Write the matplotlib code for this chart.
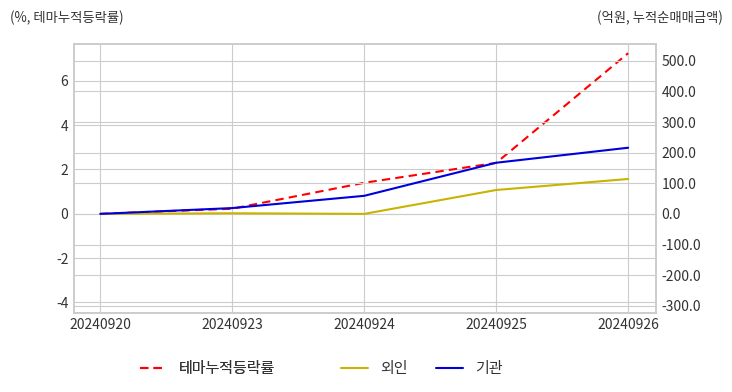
import numpy as np
import matplotlib.pyplot as plt

plt.style.use("seaborn-v0_8-whitegrid")
plt.rcParams["font.family"] = ["Noto Sans CJK KR", "DejaVu Sans"]
plt.rcParams["axes.unicode_minus"] = False

dates = ["20240920", "20240923", "20240924", "20240925", "20240926"]
theme_rate = [0.0, 0.23, 1.4, 2.3, 7.25]      # %, left axis
foreign = [0.0, 2.0, 0.0, 78.0, 114.0]        # 억원, right axis
institution = [0.0, 19.0, 59.0, 167.0, 216.0]  # 억원, right axis

text_color = "#333333"
grid_color = "#cccccc"

fig, ax = plt.subplots(figsize=(7.32, 3.92), dpi=100)
fig.subplots_adjust(left=0.101, right=0.896, top=0.888, bottom=0.202)
ax2 = ax.twinx()

x = np.arange(len(dates))
l1, = ax.plot(x, theme_rate, color="red", ls=(0, (4, 2.5)), lw=1.5,
              label="테마누적등락률")
l2, = ax2.plot(x, foreign, color="#c8b400", lw=1.5, label="외인")
l3, = ax2.plot(x, institution, color="#0000dd", lw=1.5, label="기관")

ax.set_xlim(-0.2, 4.21)
ax.set_ylim(-4.47, 7.67)
ax.set_yticks([-4, -2, 0, 2, 4, 6])
ax2.set_ylim(-323, 555)
ax2.set_yticks([-300, -200, -100, 0, 100, 200, 300, 400, 500])
ax2.set_yticklabels([f"{v:.1f}" for v in ax2.get_yticks()])
ax.set_xticks(x)
ax.set_xticklabels(dates)

for a in (ax, ax2):
    a.grid(True, color=grid_color, lw=0.8)
    a.tick_params(colors=text_color, labelsize=10, length=0, pad=4)
    for s in a.spines.values():
        s.set_visible(True)
        s.set_color(grid_color)
        s.set_linewidth(1.2)
ax2.grid(True, axis="y", color=grid_color, lw=0.8)
ax2.grid(False, axis="x")

fig.text(0.013, 0.955, "(%, 테마누적등락률)", fontsize=9.6, color=text_color,
         ha="left", va="center")
fig.text(0.987, 0.955, "(억원, 누적순매매금액)", fontsize=9.6, color=text_color,
         ha="right", va="center")

leg_kw = dict(frameon=False, fontsize=10.8, labelcolor=text_color,
              handlelength=1.8, handletextpad=0.8, borderpad=0.4)
leg1 = fig.legend(handles=[l1], loc="center left",
                  bbox_to_anchor=(0.173, 0.058), **leg_kw)
fig.add_artist(leg1)
fig.legend(handles=[l2, l3], loc="center left", bbox_to_anchor=(0.448, 0.058),
           ncol=2, columnspacing=1.9, **leg_kw)

fig.savefig("out.png", dpi=100)
